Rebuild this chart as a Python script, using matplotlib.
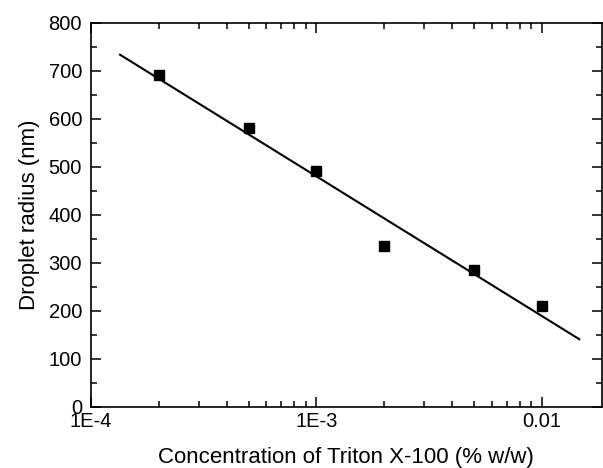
import numpy as np
import matplotlib
matplotlib.use('Agg')
import matplotlib.pyplot as plt
from matplotlib.ticker import FixedLocator, FixedFormatter, LogLocator, MultipleLocator

plt.rcParams['font.family'] = ['Liberation Sans', 'DejaVu Sans']

# Data
concentration = [2e-4, 5e-4, 1e-3, 2e-3, 5e-3, 1e-2]
radius = [690, 580, 490, 335, 284, 210]
x_ticks = [1e-4, 1e-3, 1e-2]
x_tick_labels = ['1E-4', '1E-3', '0.01']
fit_range = [1.345e-4, 0.0147]

# Linear fit of radius vs log10(concentration)
slope, intercept = np.polyfit(np.log10(concentration), radius, 1)
fit_x = np.logspace(np.log10(fit_range[0]), np.log10(fit_range[1]), 50)
fit_y = slope * np.log10(fit_x) + intercept

fig = plt.figure(figsize=(6.03, 4.68), dpi=100)
ax = fig.add_axes([0.151, 0.131, 0.847, 0.8205])

ax.plot(fit_x, fit_y, color='black', linewidth=1.5)
ax.plot(concentration, radius, 's', color='black', markersize=6.8, linestyle='none')

ax.set_xscale('log')
ax.set_xlim(1e-4, 0.0185)
ax.set_ylim(0, 800)

ax.xaxis.set_major_locator(FixedLocator(x_ticks))
ax.xaxis.set_major_formatter(FixedFormatter(x_tick_labels))
ax.xaxis.set_minor_locator(LogLocator(base=10, subs=np.arange(2, 10)))
ax.xaxis.set_minor_formatter(FixedFormatter([]))
ax.yaxis.set_major_locator(MultipleLocator(100))
ax.yaxis.set_minor_locator(MultipleLocator(50))

ax.tick_params(which='both', direction='in', top=True, right=True, labelsize=14.5, width=1.1)
ax.tick_params(which='major', length=7)
ax.tick_params(which='minor', length=4)
ax.tick_params(axis='x', which='major', pad=4)
ax.tick_params(axis='y', which='major', pad=6.5)
for s in ax.spines.values():
    s.set_linewidth(1.2)

ax.set_xlabel('Concentration of Triton X-100 (% w/w)', fontsize=16, labelpad=11)
ax.set_ylabel('Droplet radius (nm)', fontsize=16, labelpad=6)

fig.savefig('out.png', dpi=100)
